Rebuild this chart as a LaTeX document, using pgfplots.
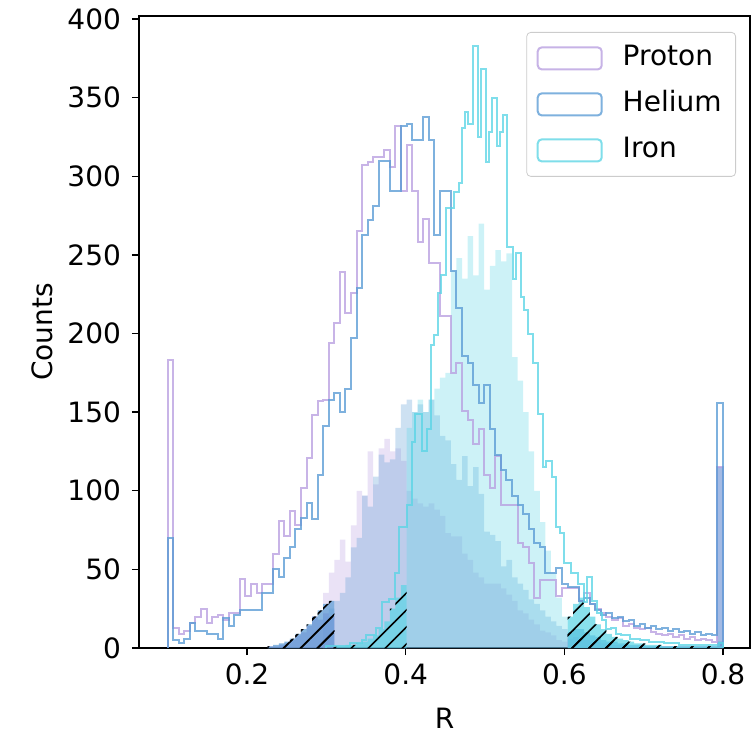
\documentclass[border=0pt]{standalone}
\usepackage{fontspec}
\setmainfont{DejaVu Sans}
\usepackage{pgfplots}
\usepackage{pgfplotstable}
\pgfplotsset{compat=1.18}
\usetikzlibrary{patterns.meta}

\definecolor{protonc}{HTML}{B89FE0}
\definecolor{heliumc}{HTML}{5A9BD5}
\definecolor{ironc}{HTML}{5BD5E5}

% outlines: left bin edges (width 0.007), Proton and Helium counts
\pgfplotstableread{
R P He
0.100 0 0
0.100 183 70
0.107 13 5
0.114 9 3
0.121 11 6
0.128 16 16
0.135 20 11
0.142 25 11
0.149 16 9
0.156 20 9
0.163 21 6
0.170 18 19
0.177 22 14
0.184 22 21
0.191 44 24
0.198 33 24
0.205 41 24
0.212 35 24
0.219 41 35
0.226 41 35
0.233 60 50
0.240 81 45
0.247 71 57
0.254 87 64
0.261 78 76
0.268 102 83
0.275 121 92
0.282 148 82
0.289 157 110
0.296 158 141
0.303 194 158
0.310 207 162
0.317 239 150
0.324 213 165
0.331 226 197
0.338 265 229
0.345 307 263
0.352 309 272
0.359 312 281
0.366 312 310
0.373 317 310
0.380 306 291
0.387 332 291
0.394 291 332
0.401 320 333
0.408 291 323
0.415 258 323
0.422 273 338
0.429 245 323
0.436 245 263
0.443 211 291
0.450 211 291
0.457 175 240
0.464 181 216
0.471 151 186
0.478 145 181
0.485 130 167
0.492 139 156
0.499 110 167
0.506 102 139
0.513 122 123
0.520 91 113
0.527 91 107
0.534 91 97
0.541 67 91
0.548 64 85
0.555 54 76
0.562 32 67
0.569 43 64
0.576 43 48
0.583 43 48
0.590 33 51
0.597 38 41
0.604 38 39
0.611 38 39
0.618 30 30
0.625 35 32
0.632 28 28
0.639 25 24
0.646 22 21
0.653 20 22
0.660 18 19
0.667 19 20
0.674 14 17
0.681 15 18
0.688 13 14
0.695 12 15
0.702 13 13
0.709 10 14
0.716 9 12
0.723 8 13
0.730 9 11
0.737 7 12
0.744 8 10
0.751 6 11
0.758 7 9
0.765 5 10
0.772 6 8
0.779 5 9
0.786 4 8
0.793 115 156
0.800 115 156
0.800 0 0
}\outl

% Iron outline, its own (narrower) bins
\pgfplotstableread{
R I
0.300 0
0.300 1
0.330 3
0.345 5
0.350 8
0.362 13
0.370 29
0.379 31
0.387 48
0.391 77
0.402 91
0.408 131
0.412 149
0.420 125
0.427 139
0.432 193
0.436 199
0.441 226
0.445 237
0.451 280
0.461 290
0.467 296
0.471 331
0.475 341
0.479 333
0.485 383
0.491 325
0.495 368
0.501 309
0.505 328
0.509 350
0.515 319
0.519 328
0.523 339
0.528 255
0.535 235
0.539 251
0.545 223
0.549 215
0.554 200
0.560 181
0.567 149
0.573 115
0.577 119
0.585 109
0.589 77
0.595 73
0.600 54
0.608 48
0.617 41
0.625 29
0.629 45
0.635 30
0.641 22
0.647 18
0.653 12
0.659 13
0.665 9
0.671 8
0.683 6
0.695 5
0.707 4
0.725 3
0.745 2
0.770 2
0.795 3
0.800 3
0.800 0
}\ironl

% filled parts
\pgfplotstableread{
R P He I
0.296 35 20 0
0.303 48 25 0
0.310 56 30 0
0.317 69 35 0
0.324 55 45 0
0.331 78 64 0
0.338 100 70 0
0.345 97 97 0
0.352 125 90 0
0.359 104 109 0
0.366 127 123 0
0.373 133 118 0
0.380 125 120 0
0.387 127 140 0
0.394 119 155 0
0.401 100 158 140
0.408 95 150 150
0.415 92 155 158
0.422 90 150 150
0.429 92 158 158
0.436 88 148 165
0.443 84 135 172
0.450 73 132 175
0.457 71 117 240
0.464 71 107 248
0.471 60 122 235
0.478 56 103 262
0.485 48 115 237
0.492 45 98 270
0.499 41 74 228
0.506 41 72 243
0.513 41 68 253
0.520 38 52 246
0.527 34 56 251
0.534 30 45 185
0.541 24 41 170
0.548 22 37 150
0.555 18 31 125
0.562 15 28 100
0.569 11 24 80
0.576 10 20 62
0.583 8 17 48
0.590 5 14 32
0.597 4 12 20
0.604 4 12 20
}\fills

% last bin, filled part
\pgfplotstableread{
R P He
0.793 115 115
0.800 115 115
}\spike

% hatched, left side
\pgfplotstableread{
R P He I
0.226 1 1 0
0.233 1 2 0
0.240 2 3 0
0.247 3 4 0
0.254 5 6 0
0.261 8 9 0
0.268 10 12 0
0.275 14 15 0
0.282 20 20 0
0.289 18 24 0
0.296 22 28 0
0.303 20 30 0
0.310 0 0 1
0.317 0 0 1
0.324 0 0 2
0.331 0 0 2
0.338 0 0 3
0.345 0 0 4
0.352 0 0 6
0.359 0 0 8
0.366 0 0 12
0.373 0 0 17
0.380 0 0 25
0.387 0 0 32
0.394 0 0 40
0.401 0 0 40
}\hatl

% hatched, right side
\pgfplotstableread{
R P He I
0.604 6 10 20
0.611 7 12 28
0.618 6 12 32
0.625 5 10 26
0.632 4 8 20
0.639 4 7 15
0.646 3 5 12
0.653 3 4 9
0.660 2 4 7
0.667 2 3 6
0.674 2 3 5
0.681 1 2 4
0.688 1 2 3
0.695 1 2 3
0.702 1 1 2
0.709 1 1 2
0.716 1 1 2
0.723 1 1 1
0.730 1 1 1
0.737 1 1 1
0.744 1 1 1
0.751 1 1 1
0.758 1 1 1
0.765 1 1 1
0.772 1 1 1
0.779 1 1 1
0.786 1 1 1
0.793 3 4 1
0.800 3 4 1
}\hatr

\pgfplotsset{
  hfill/.style={const plot, draw=none, forget plot, fill=#1, fill opacity=0.3},
  hhatch/.style={const plot, draw=none, forget plot, fill=#1, fill opacity=0.72},
  hlines/.style={const plot, draw=none, forget plot,
    pattern={Lines[angle=45,distance=6pt,line width=0.8pt]}, pattern color=black},
  hstep/.style={const plot, draw=#1, line width=1pt, draw opacity=0.78},
}

\begin{document}
\begin{tikzpicture}
\useasboundingbox (-69.5pt,-48.5pt) rectangle (308pt,324pt);
\begin{axis}[
  scale only axis, width=305.5pt, height=316pt,
  xmin=0.0638, xmax=0.834, ymin=0, ymax=402,
  xtick={0.2,0.4,0.6,0.8}, ytick={0,50,...,400},
  tick pos=left, tick align=outside, major tick length=3.5pt,
  axis line style={line width=0.7pt},
  tick style={line width=0.7pt, black},
  font=\fontsize{14}{17}\selectfont,
  /pgf/number format/assume math mode=true,
  xticklabel style={yshift=-1pt, /pgf/number format/.cd, fixed, fixed zerofill, precision=1},
  yticklabel style={xshift=-2pt},
  xlabel={R}, ylabel={Counts},
  xlabel style={at={(axis description cs:0.5,-0.111)}, anchor=center},
  ylabel style={at={(axis description cs:-0.159,0.5)}, anchor=center, rotate=0},
  legend style={at={(1,1)}, anchor=north east, xshift=-7pt, yshift=-8pt,
    draw=black!20, rounded corners=2pt, fill=white, fill opacity=0.8, text opacity=1,
    row sep=6pt, inner xsep=5pt, inner ysep=4.5pt,
    nodes={inner sep=2pt, text height=10pt, text depth=3pt},
    /tikz/every odd column/.append style={column sep=8pt},
    font=\fontsize{14}{17}\selectfont},
  legend cell align=left,
  legend image code/.code={\draw[#1, fill=none] (0pt,-5.5pt) rectangle (32pt,5.5pt);},
]
% filled parts
\addplot[hfill=protonc] table[x=R, y=P] {\fills} \closedcycle;
\addplot[hfill=heliumc] table[x=R, y=He] {\fills} \closedcycle;
\addplot[hfill=ironc] table[x=R, y=I] {\fills} \closedcycle;
\addplot[hfill=protonc, fill opacity=0.45] table[x=R, y=P] {\spike} \closedcycle;
\addplot[hfill=heliumc, fill opacity=0.45] table[x=R, y=He] {\spike} \closedcycle;

% hatched tails
\addplot[hhatch=protonc] table[x=R, y=P] {\hatl} \closedcycle;
\addplot[hhatch=heliumc] table[x=R, y=He] {\hatl} \closedcycle;
\addplot[hhatch=ironc] table[x=R, y=I] {\hatl} \closedcycle;
\addplot[hlines] table[x=R, y=P] {\hatl} \closedcycle;
\addplot[hlines] table[x=R, y=He] {\hatl} \closedcycle;
\addplot[hlines] table[x=R, y=I] {\hatl} \closedcycle;
\addplot[hhatch=protonc] table[x=R, y=P] {\hatr} \closedcycle;
\addplot[hhatch=heliumc] table[x=R, y=He] {\hatr} \closedcycle;
\addplot[hhatch=ironc] table[x=R, y=I] {\hatr} \closedcycle;
\addplot[hlines] table[x=R, y=P] {\hatr} \closedcycle;
\addplot[hlines] table[x=R, y=He] {\hatr} \closedcycle;
\addplot[hlines] table[x=R, y=I] {\hatr} \closedcycle;

% step outlines
\addplot[hstep=protonc] table[x=R, y=P] {\outl};
\addlegendentry{Proton}
\addplot[hstep=heliumc] table[x=R, y=He] {\outl};
\addlegendentry{Helium}
\addplot[hstep=ironc] table[x=R, y=I] {\ironl};
\addlegendentry{Iron}
\end{axis}
\end{tikzpicture}
\end{document}
